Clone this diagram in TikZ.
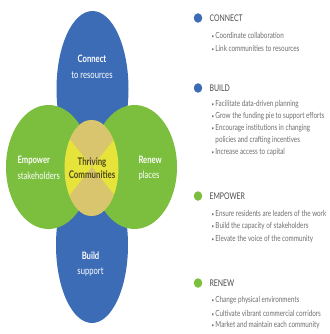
\documentclass[tikz,border=0pt]{standalone}
\usepackage{fontspec}
\setmainfont{Lato}[FakeStretch=0.75]
\usetikzlibrary{positioning,shapes.geometric}

\definecolor{petalblue}{RGB}{61,108,183}
\definecolor{petalgreen}{RGB}{124,190,62}
\definecolor{hubyellow}{RGB}{230,228,58}
\definecolor{hubtan}{RGB}{217,197,110}
\definecolor{hubtext}{RGB}{78,72,28}
\definecolor{headgray}{RGB}{75,75,75}
\definecolor{itemgray}{RGB}{110,110,110}
\newcommand{\bul}{{\scalebox{0.7}{\textbullet}}\,}

\begin{document}
\begin{tikzpicture}[x=1pt, y=-1pt,
petal/.style={font=\fontsize{10.2}{15.5}\selectfont, text=white, align=center},
hub/.style={font=\bfseries\fontsize{10.5}{13.5}\selectfont, text=hubtext, align=center},
heading/.style={anchor=west, font=\fontsize{9.2}{10}\selectfont, text=headgray},
item/.style={anchor=west, font=\fontsize{8.4}{9}\selectfont, text=itemgray},
dot/.style={ellipse, minimum width=8.5pt, minimum height=9.5pt, inner sep=0pt}]
\useasboundingbox (0,0) rectangle (329,334);
\fill[white] (0,0) rectangle (329,334);

% petals
\fill[petalblue] (92.5,89) ellipse [x radius=36pt, y radius=78pt];
\fill[petalblue] (92,245) ellipse [x radius=36pt, y radius=78pt];
\fill[petalgreen] (48.5,167) ellipse [x radius=42.5pt, y radius=62pt];
\fill[petalgreen] (134.5,167) ellipse [x radius=42.5pt, y radius=62pt];

% hub
\fill[hubyellow] (91.5,168) ellipse [x radius=27pt, y radius=48pt];
\begin{scope}
\clip (91.5,168) ellipse [x radius=27pt, y radius=48pt];
\fill[hubtan] (92,167) -- (38,99) -- (146,99) -- cycle;
\fill[hubtan] (92,167) -- (38,235) -- (146,235) -- cycle;
\end{scope}

\node[petal] (connect) at (92,67) {\textbf{Connect}\\to resources};
\node[petal] (build) at (90.5,264) {\textbf{Build}\\support};
\node[petal, anchor=west, align=left] (empower) at (14,168) {\textbf{Empower}\\stakeholders};
\node[petal, anchor=west, align=left] (renew) at (135,168) {\textbf{Renew}\\places};
\node[hub] (thriving) at (92,168) {Thriving\\Communities};

% legend
\node[dot, fill=petalblue] (dconnect) at (198,18) {};
\node[heading] (hconnect) at (206,18) {CONNECT};
\node[item] (c1) at (208,35) {\bul Coordinate collaboration};
\node[item] (c2) at (208,48) {\bul Link communities to resources};

\node[dot, fill=petalblue] (dbuild) at (198,88) {};
\node[heading] (hbuild) at (206,88) {BUILD};
\node[item] (b1) at (208,104) {\bul Facilitate data-driven planning};
\node[item] (b2) at (208,116) {\bul Grow the funding pie to support efforts};
\node[item] (b3) at (208,128) {\bul Encourage institutions in changing};
\node[item] (b4) at (208,140) {\phantom{\bul}policies and crafting incentives};
\node[item] (b5) at (208,152) {\bul Increase access to capital};

\node[dot, fill=petalgreen] (dempower) at (198,196) {};
\node[heading] (hempower) at (206,196) {EMPOWER};
\node[item] (e1) at (208,213) {\bul Ensure residents are leaders of the work};
\node[item] (e2) at (208,226) {\bul Build the capacity of stakeholders};
\node[item] (e3) at (208,239) {\bul Elevate the voice of the community};

\node[dot, fill=petalgreen] (drenew) at (198,283) {};
\node[heading] (hrenew) at (206,283) {RENEW};
\node[item] (r1) at (208,300) {\bul Change physical environments};
\node[item] (r2) at (208,313) {\bul Cultivate vibrant commercial corridors};
\node[item] (r3) at (208,325) {\bul Market and maintain each community};
\end{tikzpicture}
\end{document}
